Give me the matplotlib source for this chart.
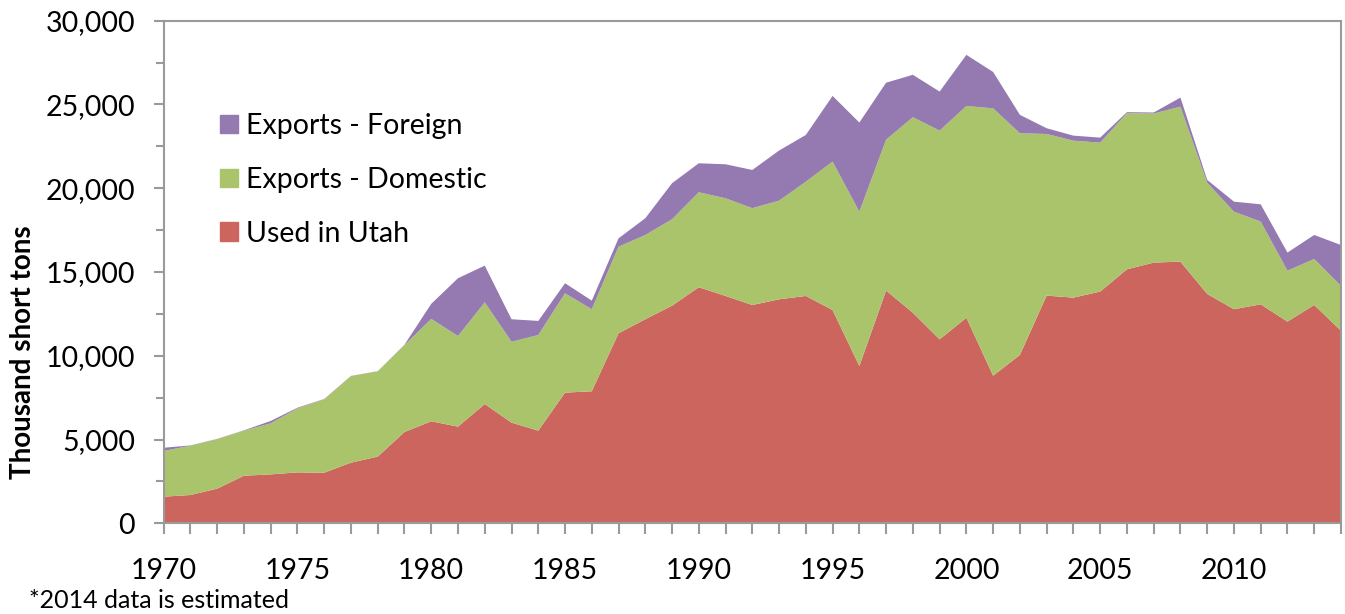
import matplotlib
matplotlib.use('Agg')
import matplotlib.pyplot as plt
from matplotlib.ticker import MultipleLocator, StrMethodFormatter
from matplotlib.patches import Patch

plt.rcParams['font.family'] = ['Lato', 'DejaVu Sans']

# years 1970-2014
years = list(range(1970, 2015))

# thousand short tons
used_in_utah = [1590, 1690, 2070, 2840, 2920, 3040, 3020, 3620, 3980, 5450,
                6090, 5770, 7120, 6010, 5530, 7800, 7880, 11340, 12180, 12990,
                14090, 13570, 13030, 13370, 13570, 12730, 9390, 13890, 12570, 10980,
                12270, 8810, 10050, 13590, 13470, 13830, 15160, 15560, 15620, 13690,
                12780, 13070, 12040, 13030, 11500]
exports_domestic = [2730, 2940, 2960, 2690, 3050, 3820, 4380, 5170, 5090, 5190,
                    6110, 5410, 6070, 4830, 5710, 5930, 4900, 5170, 5030, 5160,
                    5670, 5830, 5780, 5890, 6820, 8860, 9210, 9010, 11670, 12460,
                    12640, 15960, 13230, 9650, 9370, 8890, 9320, 8900, 9250, 6640,
                    5820, 4940, 3040, 2750, 2670]
exports_foreign = [190, 20, 10, 20, 140, 40, 20, 10, 10, 20,
                   900, 3450, 2190, 1340, 840, 600, 510, 500, 1000, 2150,
                   1730, 2030, 2280, 2990, 2790, 3920, 5320, 3400, 2530, 2330,
                   3050, 2170, 1100, 340, 300, 300, 60, 60, 540, 170,
                   600, 1030, 1080, 1430, 2440]

red = '#CC655E'
green = '#AAC46C'
purple = '#9579B1'
gray = '#9A9A9A'

fig = plt.figure(figsize=(13.45, 6.14), dpi=100)
ax = fig.add_axes([0.1217, 0.1477, 0.8753, 0.8186])

ax.stackplot(years, used_in_utah, exports_domestic, exports_foreign,
             colors=[red, green, purple], linewidth=0)

ax.set_xlim(1970, 2014)
ax.set_ylim(0, 30000)

# axis ticks
ax.xaxis.set_major_locator(MultipleLocator(5))
ax.xaxis.set_minor_locator(MultipleLocator(1))
ax.yaxis.set_major_locator(MultipleLocator(5000))
ax.yaxis.set_minor_locator(MultipleLocator(2500))
ax.yaxis.set_major_formatter(StrMethodFormatter('{x:,.0f}'))
ax.tick_params(axis='x', which='both', direction='out', length=8, width=1.5,
               color=gray, labelsize=20.5, pad=17)
ax.tick_params(axis='y', which='major', direction='out', length=7, width=1.5,
               color=gray, labelsize=20.5, pad=13.5)
ax.tick_params(axis='y', which='minor', direction='out', length=5.5, width=1.5,
               color=gray)

for s in ax.spines.values():
    s.set_color(gray)
    s.set_linewidth(1.5)

fig.text(23 / 1345, 0.4267, 'Thousand short tons', rotation=90,
         ha='center', va='center', fontsize=20, fontweight='bold')
fig.text(29 / 1345, 1 - 601 / 614, '*2014 data is estimated',
         ha='left', va='center', fontsize=18)

# legend, top entry first
handles = [Patch(color=purple), Patch(color=green), Patch(color=red)]
labels = ['Exports - Foreign', 'Exports - Domestic', 'Used in Utah']
fig.legend(handles, labels, loc='upper left',
           bbox_to_anchor=(220 / 1345, 1 - 113 / 614),
           frameon=False, fontsize=20.5, handlelength=0.63, handleheight=0.63,
           handletextpad=0.28, labelspacing=0.98, borderpad=0, borderaxespad=0)

fig.savefig('out.png', dpi=100)
